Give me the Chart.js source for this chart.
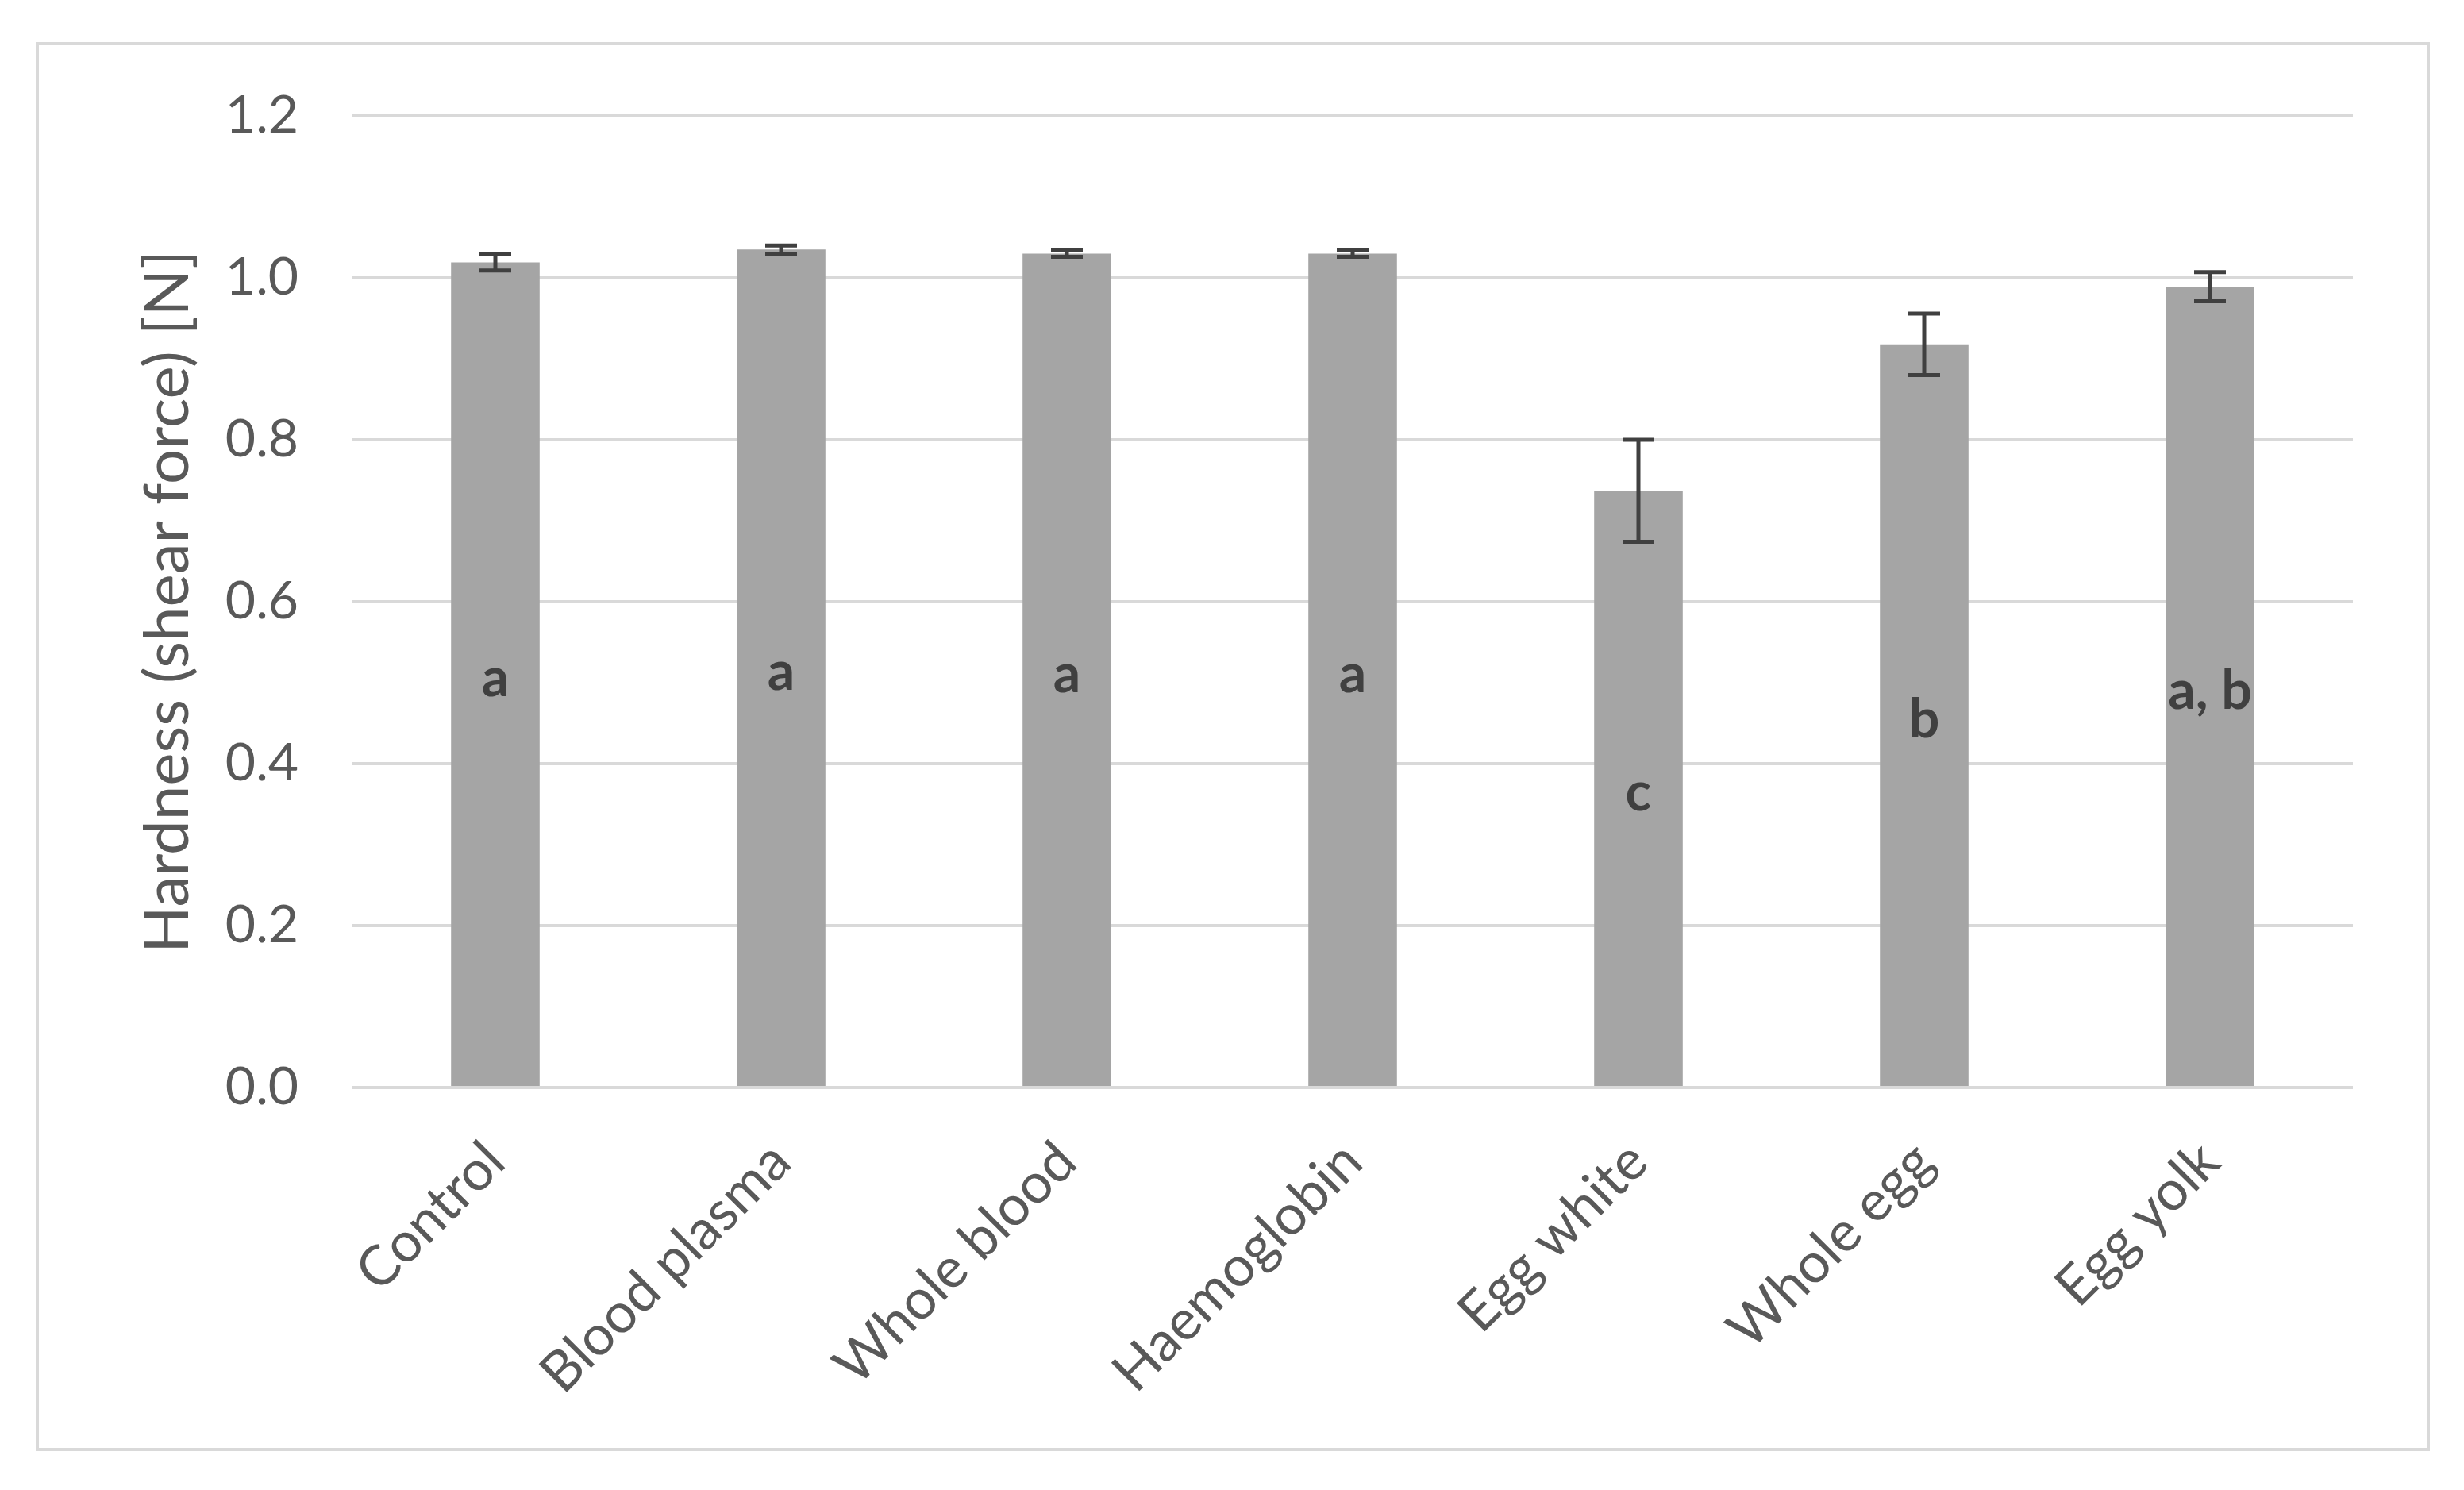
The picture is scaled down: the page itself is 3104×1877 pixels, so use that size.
<!DOCTYPE html>
<html>
<head>
<meta charset="utf-8">
<script src="https://cdn.jsdelivr.net/npm/chart.js@4.4.1/dist/chart.umd.min.js"></script>
<style>
  html, body { margin: 0; padding: 0; background: #fff; }
  #wrap { width: 3104px; height: 1877px; }
</style>
</head>
<body>
<div id="wrap"><canvas id="chart_canvas" width="3104" height="1877"></canvas></div>
<script>
  const categories = ['Control', 'Blood plasma', 'Whole blood', 'Haemoglobin', 'Egg white', 'Whole egg', 'Egg yolk'];
  const hardness = [1.019, 1.035, 1.030, 1.030, 0.737, 0.918, 0.989];
  const hardnessErr = [0.010, 0.005, 0.004, 0.004, 0.063, 0.038, 0.018];
  const groupLetters = ['a', 'a', 'a', 'a', 'c', 'b', 'a, b'];
  const yTicks = [0, 0.2, 0.4, 0.6, 0.8, 1.0, 1.2];

  const fontFamily = 'Lato, "Open Sans", sans-serif';

  // grey frame round the whole chart
  const framePlugin = {
    id: 'frame',
    beforeDraw(chart) {
      const ctx = chart.ctx;
      ctx.save();
      ctx.fillStyle = '#ffffff';
      ctx.fillRect(0, 0, chart.width, chart.height);
      ctx.strokeStyle = '#d9d9d9';
      ctx.lineWidth = 4;
      ctx.strokeRect(47, 55, 3012, 1771);
      ctx.restore();
    }
  };

  // error bars and significance letters
  const barExtrasPlugin = {
    id: 'barExtras',
    afterDatasetsDraw(chart) {
      const ctx = chart.ctx;
      const yScale = chart.scales.y;
      const meta = chart.getDatasetMeta(0);
      ctx.save();
      meta.data.forEach((bar, i) => {
        const top = yScale.getPixelForValue(hardness[i] + hardnessErr[i]);
        const bot = yScale.getPixelForValue(hardness[i] - hardnessErr[i]);
        ctx.strokeStyle = '#404040';
        ctx.lineWidth = 5;
        ctx.beginPath();
        ctx.moveTo(bar.x, top);
        ctx.lineTo(bar.x, bot);
        ctx.moveTo(bar.x - 20, top);
        ctx.lineTo(bar.x + 20, top);
        ctx.moveTo(bar.x - 20, bot);
        ctx.lineTo(bar.x + 20, bot);
        ctx.stroke();

        ctx.fillStyle = '#404040';
        ctx.font = 'bold 68px ' + fontFamily;
        ctx.textAlign = 'center';
        ctx.textBaseline = 'middle';
        ctx.fillText(groupLetters[i], bar.x, (bar.y + bar.base) / 2 + 6);
      });
      ctx.restore();
    }
  };

  const ctx = document.getElementById('chart_canvas');
  new Chart(ctx, { // eslint-disable-line no-undef
    type: 'bar',
    data: {
      labels: categories,
      datasets: [{
        label: 'Hardness',
        data: hardness,
        backgroundColor: '#a5a5a5',
        categoryPercentage: 1,
        barPercentage: 0.31
      }]
    },
    options: {
      responsive: false,
      animation: false,
      devicePixelRatio: 1,
      layout: { padding: { left: 47, top: 146, right: 140, bottom: 51 } },
      plugins: {
        legend: { display: false },
        tooltip: { enabled: false }
      },
      scales: {
        x: {
          grid: { display: false },
          border: { display: false },
          ticks: {
            color: '#595959',
            font: { family: fontFamily, size: 70 },
            minRotation: 45,
            maxRotation: 45,
            padding: 44
          },
          afterFit(scale) { scale.height = 456; }
        },
        y: {
          min: 0,
          max: 1.2,
          afterBuildTicks(scale) { scale.ticks = yTicks.map(v => ({ value: v })); },
          grid: { color: '#d9d9d9', lineWidth: 4, drawTicks: false },
          border: { display: false },
          ticks: {
            color: '#595959',
            font: { family: fontFamily, size: 66 },
            padding: 68,
            callback: v => Number(v).toFixed(1)
          },
          title: {
            display: true,
            text: 'Hardness (shear force) [N]',
            color: '#595959',
            font: { family: fontFamily, size: 78 },
            padding: { top: 118, bottom: 0 }
          },
          afterFit(scale) { scale.width = 397; }
        }
      }
    },
    plugins: [framePlugin, barExtrasPlugin]
  });
</script>
</body>
</html>
